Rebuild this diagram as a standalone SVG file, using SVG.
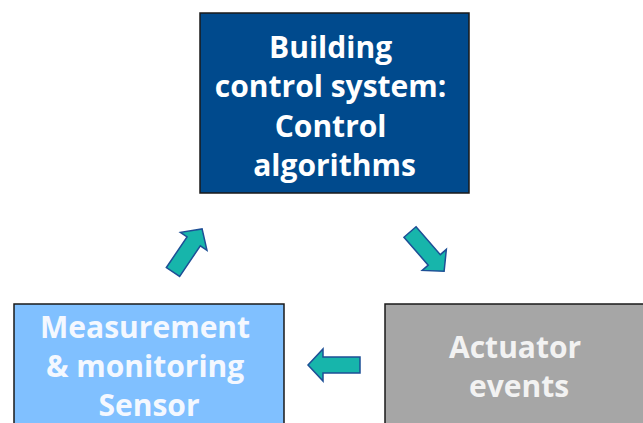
<svg xmlns="http://www.w3.org/2000/svg" width="643" height="423" viewBox="0 0 643 423">
  <style>
    .box { stroke: #1a1a1a; stroke-width: 1.5; }
    .lbl { font-family: "Open Sans", "Noto Sans", "DejaVu Sans", sans-serif; font-weight: bold; font-size: 30px; text-anchor: middle; }
    .arrow { fill: #17b5ab; stroke: #1d4f96; stroke-width: 1.5; stroke-linejoin: miter; }
  </style>
  <defs>
    <!-- block arrow pointing along +x, tail at origin -->
    <path id="blockArrow" d="M0,-8 L37,-8 L37,-16 L52,0 L37,16 L37,8 L0,8 Z"/>
  </defs>
  <rect width="643" height="423" fill="#ffffff"/>

  <g id="control">
    <rect class="box" x="200" y="13" width="269" height="180" fill="#004a8d"/>
    <text class="lbl" fill="#ffffff">
      <tspan x="334.5" y="58">Building</tspan>
      <tspan x="334.5" y="97">control system:</tspan>
      <tspan x="334.5" y="137">Control</tspan>
      <tspan x="334.5" y="176">algorithms</tspan>
    </text>
  </g>

  <g id="sensor">
    <rect class="box" x="14" y="304" width="270" height="130" fill="#80c0ff"/>
    <text class="lbl" fill="#f4f8ff">
      <tspan x="149" y="338">Measurement</tspan>
      <tspan x="149" y="377">&amp; monitoring</tspan>
      <tspan x="149" y="416">Sensor</tspan>
    </text>
  </g>

  <g id="actuator">
    <rect class="box" x="385" y="304" width="270" height="130" fill="#a6a6a6"/>
    <text class="lbl" fill="#f2f2f2">
      <tspan x="519" y="358">Actuator</tspan>
      <tspan x="519" y="397">events</tspan>
    </text>
  </g>

  <g id="connectors">
    <use href="#blockArrow" class="arrow" transform="translate(173,272) rotate(-56)"/>
    <use href="#blockArrow" class="arrow" transform="translate(410,232) rotate(49)"/>
    <use href="#blockArrow" class="arrow" transform="translate(360,365) rotate(180)"/>
  </g>
</svg>
